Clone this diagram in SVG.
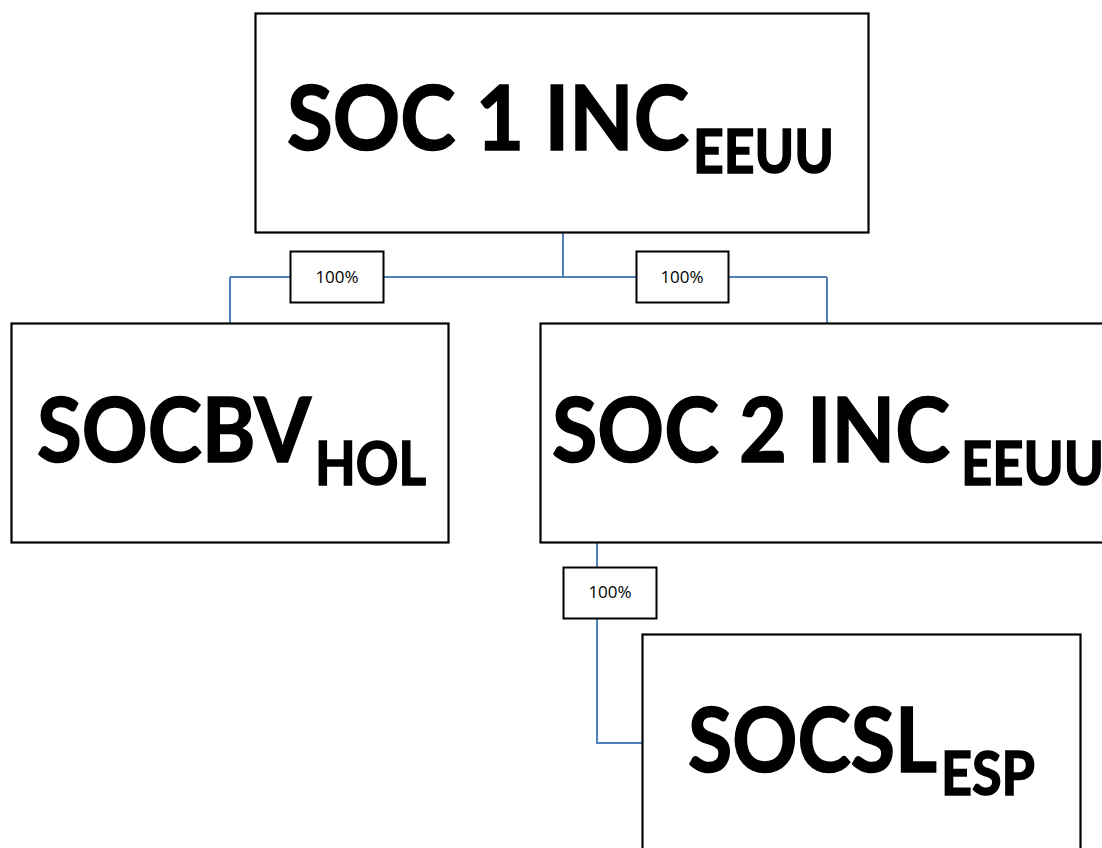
<svg xmlns="http://www.w3.org/2000/svg" width="1102" height="848" viewBox="0 0 1102 848">
<style>
.box{fill:#fff;stroke:#000;stroke-width:2.2}
.lbl{fill:#fff;stroke:#000;stroke-width:2}
.big{font-family:Lato,"Open Sans","Liberation Sans",sans-serif;font-weight:bold;font-size:90px;fill:#000;stroke:#000;stroke-width:1.6}
.sub{font-size:61px}
.pct{font-family:"Open Sans","Liberation Sans",sans-serif;font-size:17px;fill:#000;text-anchor:middle}
.con{fill:none;stroke:#4F81BD;stroke-width:2}
</style>
<rect width="1102" height="848" fill="#fff"/>
<g id="connectors">
<path class="con" d="M563 233V277M230 277H827M230 277V323M827 277V323"/>
<path class="con" d="M597 543V743H642"/>
</g>
<g id="soc1">
<rect class="box" x="255.5" y="13.5" width="613" height="219"/>
<text class="big"><tspan x="287" y="150" textLength="402" lengthAdjust="spacingAndGlyphs">SOC 1 INC</tspan><tspan class="sub" x="693" y="173" textLength="141" lengthAdjust="spacingAndGlyphs">EEUU</tspan></text>
</g>
<g id="socbv">
<rect class="box" x="11.5" y="323.5" width="437" height="219"/>
<text class="big"><tspan x="37" y="462" textLength="274" lengthAdjust="spacingAndGlyphs">SOCBV</tspan><tspan class="sub" x="315" y="485" textLength="111" lengthAdjust="spacingAndGlyphs">HOL</tspan></text>
</g>
<g id="soc2">
<rect class="box" x="540.5" y="323.5" width="600" height="219"/>
<text class="big"><tspan x="552" y="462" textLength="398" lengthAdjust="spacingAndGlyphs">SOC 2 INC</tspan><tspan class="sub" x="961" y="485" textLength="143" lengthAdjust="spacingAndGlyphs">EEUU</tspan></text>
</g>
<g id="socsl">
<rect class="box" x="642.5" y="634.5" width="438" height="240"/>
<text class="big"><tspan x="688" y="772" textLength="249" lengthAdjust="spacingAndGlyphs">SOCSL</tspan><tspan class="sub" x="941" y="795" textLength="94" lengthAdjust="spacingAndGlyphs">ESP</tspan></text>
</g>
<g id="lbl1">
<rect class="lbl" x="290.5" y="251.5" width="93" height="51"/>
<text class="pct" x="337" y="283">100%</text>
</g>
<g id="lbl2">
<rect class="lbl" x="636.5" y="251.5" width="92" height="51"/>
<text class="pct" x="682" y="283">100%</text>
</g>
<g id="lbl3">
<rect class="lbl" x="563.5" y="567.5" width="93" height="51"/>
<text class="pct" x="610" y="598">100%</text>
</g>
</svg>
